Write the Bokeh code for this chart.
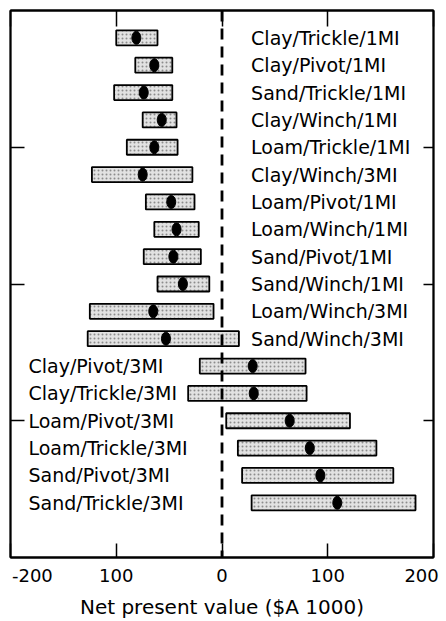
from bokeh.plotting import figure
from bokeh.models import ColumnDataSource, Range1d, LinearAxis, FixedTicker, Span
from bokeh.core.properties import value
from bokeh.embed import file_html
from bokeh.resources import INLINE

# ---- data ----
scenarios = ["Clay/Trickle/1MI", "Clay/Pivot/1MI", "Sand/Trickle/1MI", "Clay/Winch/1MI",
             "Loam/Trickle/1MI", "Clay/Winch/3MI", "Loam/Pivot/1MI", "Loam/Winch/1MI",
             "Sand/Pivot/1MI", "Sand/Winch/1MI", "Loam/Winch/3MI", "Sand/Winch/3MI",
             "Clay/Pivot/3MI", "Clay/Trickle/3MI", "Loam/Pivot/3MI", "Loam/Trickle/3MI",
             "Sand/Pivot/3MI", "Sand/Trickle/3MI"]
npv_low = [-100, -82, -102, -75, -90, -123, -72, -64, -74, -61, -125, -127,
           -21, -32, 4, 15, 19, 28]
npv_high = [-61, -47, -47, -43, -42, -28, -26, -22, -20, -12, -8, 16,
            79, 80, 121, 146, 162, 183]
npv_mean = [-81, -64, -74, -57, -64, -75, -48, -43, -46, -37, -65, -53,
            29, 30, 64, 83, 93, 109]
x_ticks = [-200, -100, 0, 100, 200]
x_tick_labels = ["-200", "100", "0", "100", "200"]
y_ticks = [5, 10, 15]

FONT = "DejaVu Sans"
W, H = 444, 621
NB = "\u00a0"

rows = list(range(1, len(scenarios) + 1))
label_x = [-183 if m > 0 else 27.5 for m in npv_mean]
src = ColumnDataSource(dict(row=rows, name=scenarios, low=npv_low, high=npv_high,
                            mean=npv_mean, lx=label_x))

p = figure(width=W, height=H, output_backend="svg", toolbar_location=None,
           x_range=Range1d(-200, 200), y_range=Range1d(20, 0),
           x_axis_location=None, y_axis_location=None,
           min_border_left=10, min_border_right=11, min_border_top=10, min_border_bottom=60)
p.grid.visible = False
p.outline_line_color = "black"
p.outline_line_width = 1.8
p.background_fill_color = "white"
p.border_fill_color = "white"

def mk_axis(ticks, tin):
    ax = LinearAxis(ticker=FixedTicker(ticks=ticks), major_tick_in=tin, major_tick_out=0,
                    minor_tick_line_color=None, major_label_text_font_size="1px",
                    major_label_overrides={t: "" for t in ticks},
                    major_label_standoff=0, axis_line_color="black", axis_line_width=1.8,
                    major_tick_line_color="black", major_tick_line_width=1.5)
    return ax

# bottom axis: tick labels as in the original; the edge labels are nudged inwards
overrides = {}
for i, (v, t) in enumerate(zip(x_ticks, x_tick_labels)):
    if i == 0:
        t = NB * 2 + t
    elif i == len(x_ticks) - 1:
        t = t + NB * 1
    overrides[v] = t
bottom = LinearAxis(ticker=FixedTicker(ticks=x_ticks), major_tick_in=14, major_tick_out=0,
                    minor_tick_line_color=None, major_label_overrides=overrides,
                    major_label_text_font=FONT, major_label_text_font_size="18px",
                    major_label_text_color="black", major_label_standoff=7,
                    axis_line_color="black", axis_line_width=1.8,
                    major_tick_line_color="black", major_tick_line_width=1.5)
bottom.axis_label = "Net present value ($A 1000)"
bottom.axis_label_text_font = FONT
bottom.axis_label_text_font_size = "20px"
bottom.axis_label_text_font_style = "normal"
bottom.axis_label_text_color = "black"
bottom.axis_label_standoff = 6
p.add_layout(bottom, "below")
p.add_layout(mk_axis(x_ticks, 16), "above")
p.add_layout(mk_axis(y_ticks, 14), "left")
p.add_layout(mk_axis(y_ticks, 10), "right")

# zero reference line
p.add_layout(Span(location=0, dimension="height", line_color="black",
                  line_width=2.8, line_dash="11 7"))

# range bars
p.hbar(y="row", left="low", right="high", height=0.55, source=src,
       fill_color="#e2e2e2", line_color="black", line_width=1.8,
       hatch_pattern="dot", hatch_color="#8c8c8c", hatch_scale=4, hatch_weight=1)

# mean dots
p.ellipse(x="mean", y="row", width=9, height=13, width_units="screen",
          height_units="screen", source=src, fill_color="black", line_color="black")

# scenario labels
p.text(x="lx", y="row", text="name", source=src, text_align="left",
       text_baseline="middle", text_font=value(FONT), text_font_size="19px",
       text_color="black")

open("out.html", "w").write(file_html(p, INLINE))
